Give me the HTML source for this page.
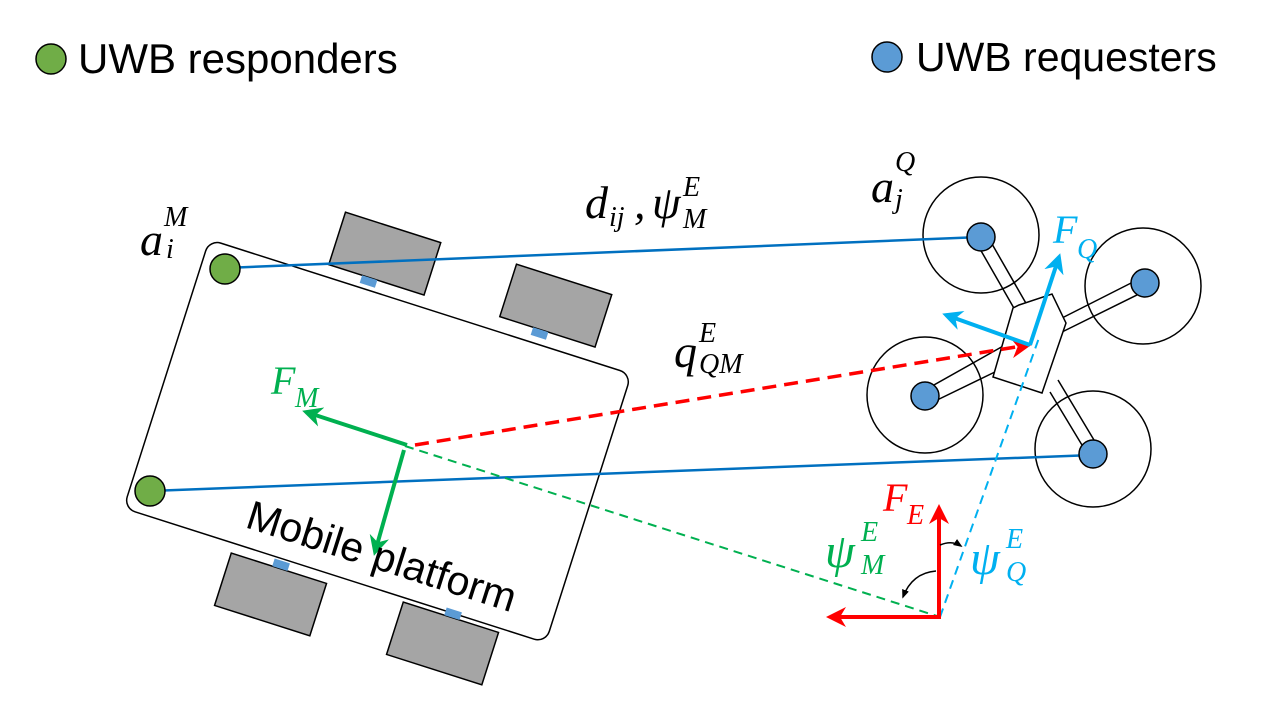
<!DOCTYPE html>
<html><head><meta charset="utf-8"><style>
html,body{margin:0;padding:0;background:#fff;}
svg{display:block;}
.m{font-family:"Liberation Serif",serif;font-style:italic;}
.s{font-family:"Liberation Sans",sans-serif;}
</style></head><body>
<svg width="1280" height="720" viewBox="0 0 1280 720" xmlns="http://www.w3.org/2000/svg">
<defs>
<marker id="ag" viewBox="0 0 10 10" refX="8" refY="5" markerWidth="5" markerHeight="5" orient="auto"><path d="M0,0 L10,5 L0,10 L3,5 z" fill="#00b050"/></marker>
<marker id="ab" viewBox="0 0 10 10" refX="8" refY="5" markerWidth="5" markerHeight="5" orient="auto"><path d="M0,0 L10,5 L0,10 L3,5 z" fill="#00b0f0"/></marker>
<marker id="ar" viewBox="0 0 10 10" refX="8" refY="5" markerWidth="5" markerHeight="5" orient="auto"><path d="M0,0 L10,5 L0,10 L3,5 z" fill="#ff0000"/></marker>
<marker id="ard" viewBox="0 0 10 10" refX="8" refY="5" markerWidth="6" markerHeight="6" orient="auto"><path d="M0,0 L10,5 L0,10 L3,5 z" fill="#ff0000"/></marker>
<marker id="ak" viewBox="0 0 10 10" refX="8" refY="5" markerWidth="6" markerHeight="6" orient="auto"><path d="M0,1 L10,5 L0,9 z" fill="#000"/></marker>
</defs>

<!-- legend -->
<circle cx="51" cy="59" r="15" fill="#70ad47" stroke="#000" stroke-width="1.5"/>
<text x="78" y="73" class="s" font-size="42">UWB responders</text>
<circle cx="887" cy="57" r="15" fill="#5b9bd5" stroke="#000" stroke-width="1.5"/>
<text x="916" y="71" class="s" font-size="41">UWB requesters</text>

<!-- platform body -->
<g transform="rotate(17.7 377 441)"><rect x="156" y="300" width="443" height="282" rx="12" fill="#fff" stroke="#000" stroke-width="1.5"/></g>

<!-- platform wheels -->
<g transform="rotate(17.7 384 256)"><rect x="334" y="226" width="100" height="55" fill="#a5a5a5" stroke="#000" stroke-width="1.5"/><rect x="369" y="281" width="16" height="8" fill="#5b9bd5"/></g>
<g transform="rotate(17.7 555 308)"><rect x="505" y="278" width="100" height="55" fill="#a5a5a5" stroke="#000" stroke-width="1.5"/><rect x="540" y="333" width="16" height="8" fill="#5b9bd5"/></g>
<g transform="rotate(17.7 271 593)"><rect x="221" y="567" width="100" height="55" fill="#a5a5a5" stroke="#000" stroke-width="1.5"/><rect x="264" y="559" width="16" height="8" fill="#5b9bd5"/></g>
<g transform="rotate(17.7 443 642)"><rect x="393" y="616" width="100" height="55" fill="#a5a5a5" stroke="#000" stroke-width="1.5"/><rect x="436" y="608" width="16" height="8" fill="#5b9bd5"/></g>

<!-- drone -->
<g stroke="#000" stroke-width="1.5" fill="none">
<circle cx="981" cy="235" r="58"/><circle cx="1143" cy="286" r="58"/><circle cx="925" cy="395" r="58"/><circle cx="1093" cy="449" r="58"/>
<path d="M976,242 L1015,310 M988,237 L1027,305"/>
<path d="M1141,278 L1062,318 M1147,290 L1060,333"/>
<path d="M925,390 L1005,345 M931,403 L999,370"/>
<path d="M1088,455 L1050,392 M1100,450 L1058,380"/>
</g>
<polygon points="1019,305 1052,294 1066,323 1042,393 993,377 1013,308" fill="#fff" stroke="#000" stroke-width="1.5"/>

<!-- connectors -->
<line x1="225" y1="268" x2="981" y2="237" stroke="#0070c0" stroke-width="2.5"/>
<line x1="150" y1="491" x2="1093" y2="455" stroke="#0070c0" stroke-width="2.5"/>
<line x1="405" y1="446" x2="940" y2="617" stroke="#00b050" stroke-width="2" stroke-dasharray="9,6"/>
<line x1="940" y1="617" x2="1040" y2="335" stroke="#00b0f0" stroke-width="2" stroke-dasharray="9,6"/>
<line x1="415" y1="445" x2="1028" y2="345" stroke="#ff0000" stroke-width="3.5" stroke-dasharray="14,8" marker-end="url(#ard)"/>

<!-- anchors -->
<circle cx="225" cy="269" r="15" fill="#70ad47" stroke="#000" stroke-width="1.5"/>
<circle cx="150" cy="491" r="15" fill="#70ad47" stroke="#000" stroke-width="1.5"/>
<g fill="#5b9bd5" stroke="#000" stroke-width="1.5">
<circle cx="981" cy="237" r="14"/><circle cx="1145" cy="283" r="14"/><circle cx="925" cy="396" r="14"/><circle cx="1093" cy="454" r="14"/>
</g>

<!-- F_M arrows -->
<line x1="407" y1="445" x2="306" y2="412" stroke="#00b050" stroke-width="4" marker-end="url(#ag)"/>
<line x1="404" y1="450" x2="375" y2="552" stroke="#00b050" stroke-width="4" marker-end="url(#ag)"/>
<!-- F_Q arrows -->
<line x1="1030" y1="345" x2="946" y2="315" stroke="#00b0f0" stroke-width="4" marker-end="url(#ab)"/>
<line x1="1030" y1="345" x2="1059" y2="257" stroke="#00b0f0" stroke-width="4" marker-end="url(#ab)"/>
<!-- F_E -->
<line x1="939" y1="618" x2="939" y2="508" stroke="#ff0000" stroke-width="4" marker-end="url(#ar)"/>
<line x1="941" y1="617" x2="830" y2="617" stroke="#ff0000" stroke-width="4" marker-end="url(#ar)"/>
<!-- angle arcs -->
<path d="M936,571 Q912,573 903,597" stroke="#000" stroke-width="1.5" fill="none" marker-end="url(#ak)"/>
<path d="M940,545 Q952,540 961,546" stroke="#000" stroke-width="1.5" fill="none" marker-end="url(#ak)"/>

<!-- labels -->
<g class="m">
<text x="140" y="255" font-size="46">a</text><text x="164" y="226" font-size="28">M</text><text x="166" y="258" font-size="28">i</text>
<text x="585" y="218" font-size="46">d</text><text x="609" y="226" font-size="28">ij</text><text x="634" y="218" font-size="46">,</text>
<text x="652" y="218" font-size="46">ψ</text><text x="683" y="196" font-size="28">E</text><text x="683" y="228" font-size="28">M</text>
<text x="871" y="202" font-size="46">a</text><text x="895" y="171" font-size="28">Q</text><text x="895" y="208" font-size="28">j</text>
<text x="1053" y="243" font-size="40" fill="#00b0f0">F</text><text x="1077" y="258" font-size="28" fill="#00b0f0">Q</text>
<text x="674" y="367" font-size="46">q</text><text x="699" y="342" font-size="28">E</text><text x="699" y="373" font-size="28">QM</text>
<text x="271" y="394" font-size="40" fill="#00b050">F</text><text x="295" y="407" font-size="28" fill="#00b050">M</text>
<text x="883" y="511" font-size="40" fill="#ff0000">F</text><text x="907" y="524" font-size="28" fill="#ff0000">E</text>
<text x="825" y="567" font-size="48" fill="#00b050">ψ</text><text x="861" y="541" font-size="28" fill="#00b050">E</text><text x="861" y="574" font-size="28" fill="#00b050">M</text>
<text x="970" y="574" font-size="48" fill="#00b0f0">ψ</text><text x="1006" y="548" font-size="28" fill="#00b0f0">E</text><text x="1006" y="581" font-size="28" fill="#00b0f0">Q</text>
</g>
<text x="0" y="0" class="s" font-size="41" transform="translate(244,527) rotate(17.7)">Mobile platform</text>
</svg>
</body></html>
